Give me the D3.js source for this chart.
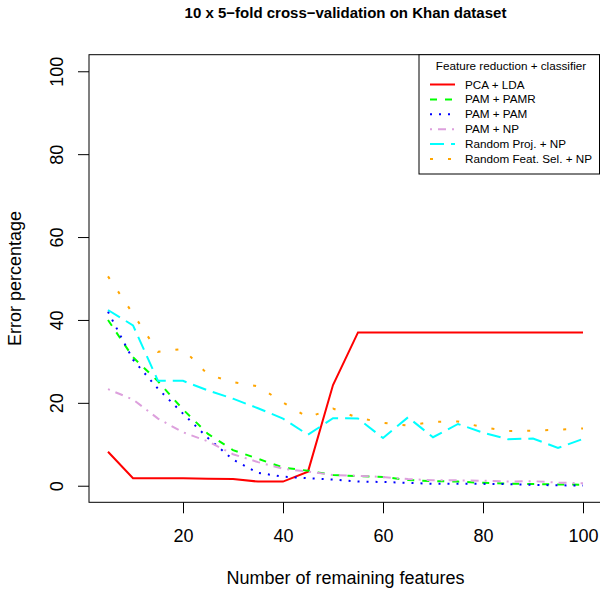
<!DOCTYPE html>
<html lang="en">
<head>
    <meta charset="UTF-8">
    <title>10 x 5-fold cross-validation on Khan dataset</title>
    <script src="https://d3js.org/d3.v7.min.js"></script>
    <style>
        body { margin: 0; background: #fff; }
        text { font-family: "Liberation Sans", Arial, Helvetica, sans-serif; fill: #000; }
    </style>
</head>
<body>
    <script>
        // number of remaining features
        const features = [5, 10, 15, 20, 25, 30, 35, 40, 45, 50, 55, 60, 65, 70, 75, 80, 85, 90, 95, 100];

        // error percentage per method
        const pcaLda    = [8.2, 1.8, 1.8, 1.8, 1.7, 1.6, 1.0, 1.0, 3.4, 24.3, 37, 37, 37, 37, 37, 37, 37, 37, 37, 37];
        const pamPamr   = [40, 31, 25.2, 18.4, 12.5, 8.6, 6.5, 4.4, 3.6, 2.6, 2.3, 2.1, 1.4, 1.1, 1.0, 0.7, 0.5, 0.4, 0.3, 0.25];
        const pamPam    = [42, 30.4, 23.4, 17.4, 11.5, 6.3, 3.1, 2.2, 1.8, 1.5, 1.0, 0.9, 0.7, 0.45, 0.45, 0.45, 0.4, 0.2, 0.1, 0.05];
        const pamNp     = [23.3, 20.8, 16.2, 12.9, 10.7, 7.6, 5.7, 4.1, 3.4, 2.6, 2.4, 2.1, 1.6, 1.3, 1.3, 1.2, 1.0, 1.1, 0.75, 0.6];
        const randProj  = [42.4, 38.7, 25.3, 25.3, 23, 21, 18.7, 16.2, 12.3, 16.3, 16.2, 11.5, 16.5, 11.7, 14.9, 12.8, 11.2, 11.4, 9.1, 11.3];
        const randFeat  = [50.5, 41.5, 32.3, 33, 26.8, 25, 24, 20.1, 16.5, 18.6, 16.4, 15.2, 14.5, 15.4, 15.5, 14.1, 13.2, 13.3, 13.5, 13.8];

        const legendLabels = ["PCA + LDA", "PAM + PAMR", "PAM + PAM", "PAM + NP", "Random Proj. + NP", "Random Feat. Sel. + NP"];
        const xTicks = [20, 40, 60, 80, 100];
        const yTicks = [0, 20, 40, 60, 80, 100];

        const series = [pcaLda, pamPamr, pamPam, pamNp, randProj, randFeat];
        const colors = ["#ff0000", "#00ff00", "#0000ff", "#dda0dd", "#00ffff", "#ffa500"];
        const dashes = [null, "7,8", "2,7", "2,6,8,6", "14,7", "3,15"];

        const width = 600, height = 593;
        const plotLeft = 89, plotRight = 602, plotTop = 54.7, plotBottom = 502.3;

        const x = d3.scaleLinear().domain([1.2, 103.8]).range([plotLeft, plotRight]);
        const y = d3.scaleLinear().domain([-4, 104]).range([plotBottom, plotTop]);

        const svg = d3.select("body").append("svg")
            .attr("width", width)
            .attr("height", height);

        // title
        svg.append("text")
            .attr("x", (plotLeft + plotRight) / 2)
            .attr("y", 17.5)
            .attr("text-anchor", "middle")
            .style("font-weight", "bold")
            .style("font-size", "15px")
            .text("10 x 5\u2212fold cross\u2212validation on Khan dataset");

        // axes
        const gx = svg.append("g")
            .attr("transform", `translate(0,${plotBottom})`)
            .call(d3.axisBottom(x).tickValues(xTicks).tickSize(11).tickSizeOuter(0));
        gx.select(".domain").remove();
        gx.selectAll("line").attr("stroke", "#000");
        gx.selectAll("text")
            .attr("y", 40).attr("dy", 0)
            .style("font-size", "18px");

        const gy = svg.append("g")
            .attr("transform", `translate(${plotLeft},0)`)
            .call(d3.axisLeft(y).tickValues(yTicks).tickSize(11).tickSizeOuter(0));
        gy.select(".domain").remove();
        gy.selectAll("line").attr("stroke", "#000");
        gy.selectAll("text")
            .attr("x", 0).attr("y", 0).attr("dy", 0)
            .attr("text-anchor", "middle")
            .attr("transform", "translate(-26,0) rotate(-90)")
            .style("font-size", "18px");

        svg.append("text")
            .attr("x", (plotLeft + plotRight) / 2)
            .attr("y", 584)
            .attr("text-anchor", "middle")
            .style("font-size", "18px")
            .text("Number of remaining features");

        svg.append("text")
            .attr("transform", `translate(21,${(plotTop + plotBottom) / 2}) rotate(-90)`)
            .attr("text-anchor", "middle")
            .style("font-size", "18px")
            .text("Error percentage");

        // series
        const line = d3.line()
            .x((d, i) => x(features[i]))
            .y(d => y(d));

        svg.append("g")
            .selectAll("path").data(series).join("path")
            .attr("d", line)
            .attr("fill", "none")
            .attr("stroke", (d, i) => colors[i])
            .attr("stroke-width", 2)
            .attr("stroke-dasharray", (d, i) => dashes[i]);

        // plot box
        svg.append("rect")
            .attr("x", plotLeft).attr("y", plotTop)
            .attr("width", plotRight - plotLeft).attr("height", plotBottom - plotTop)
            .attr("fill", "none")
            .attr("stroke", "#000");

        // legend
        const lgLeft = 419, lgRight = 599.5, lgTop = plotTop, lgBottom = 174;
        const legend = svg.append("g");
        legend.append("rect")
            .attr("x", lgLeft).attr("y", lgTop)
            .attr("width", lgRight - lgLeft).attr("height", lgBottom - lgTop)
            .attr("fill", "#fff")
            .attr("stroke", "#000");
        legend.append("text")
            .attr("x", 511).attr("y", 70)
            .attr("text-anchor", "middle")
            .style("font-size", "11.7px")
            .text("Feature reduction + classifier");

        const rows = legend.selectAll("g.row").data(legendLabels).join("g")
            .attr("class", "row")
            .attr("transform", (d, i) => `translate(0,${84.5 + i * 14.9})`);
        rows.append("line")
            .attr("x1", 430).attr("x2", 455)
            .attr("stroke", (d, i) => colors[i])
            .attr("stroke-width", 2)
            .attr("stroke-dasharray", (d, i) => dashes[i]);
        rows.append("text")
            .attr("x", 465).attr("y", 4)
            .style("font-size", "11.7px")
            .text(d => d);
    </script>
</body>
</html>
